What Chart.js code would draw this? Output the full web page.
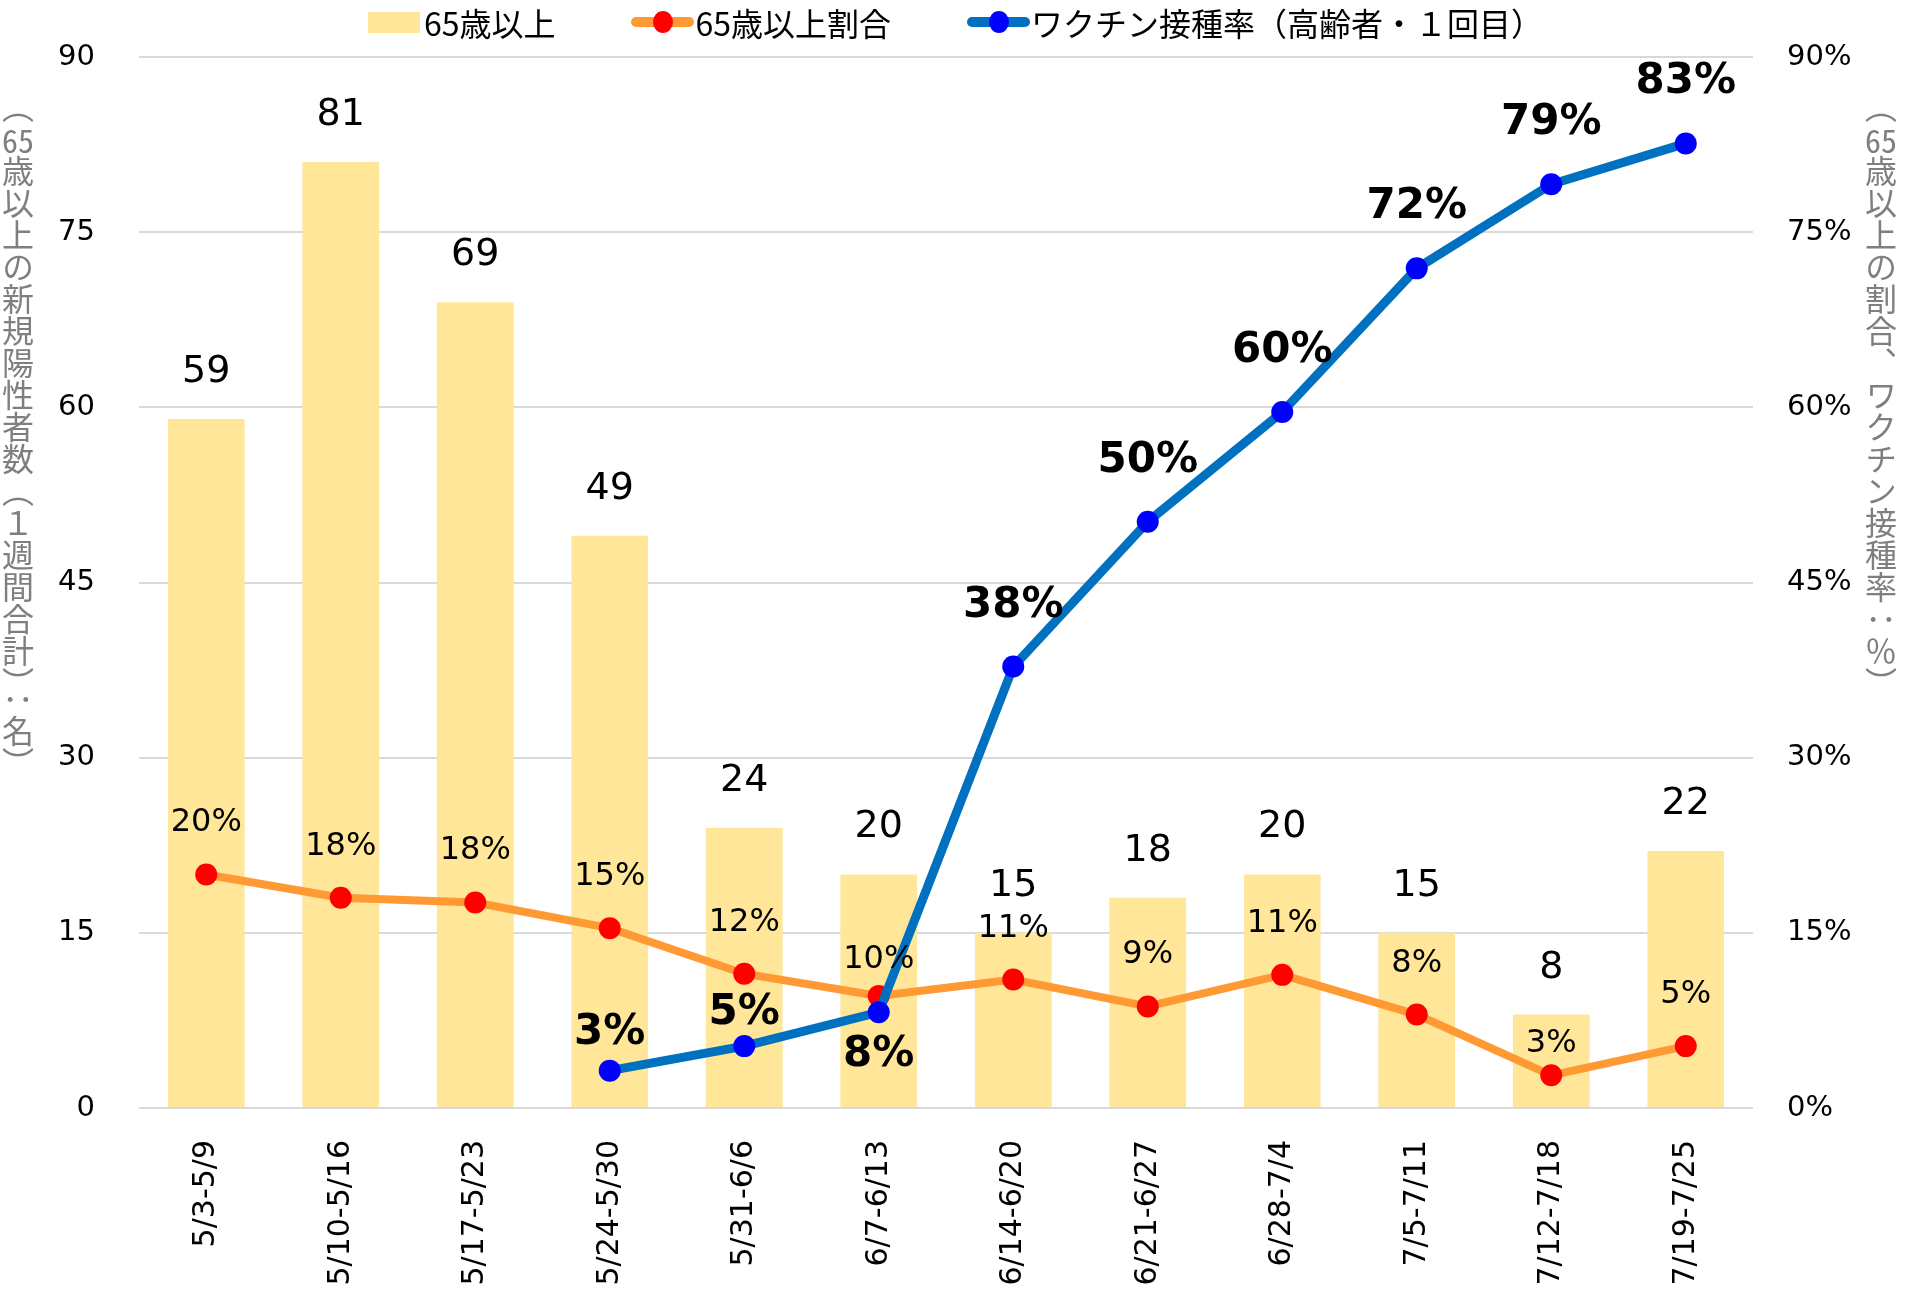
<!DOCTYPE html>
<html>
<head>
<meta charset="utf-8">
<script src="https://cdn.jsdelivr.net/npm/chart.js@4.4.1/dist/chart.umd.min.js"></script>
<style>
body { margin: 0; background: #fff; }
#wrap { position: relative; width: 1911px; height: 1289px; }
#legend {
    position: absolute; top: 0; left: 0; width: 1911px; height: 44px;
    display: flex; justify-content: center; align-items: center; gap: 76px;
    font-family: "Noto Sans CJK JP", sans-serif; font-size: 32px; color: #000;
}
.legend-item { display: flex; align-items: center; white-space: nowrap; }
.swatch { width: 52px; height: 21px; margin-right: 4px; }
.line-icon { position: relative; width: 63px; height: 10px; border-radius: 5px; margin-right: 1px; }
.dot { position: absolute; left: 50%; top: 50%; width: 20px; height: 22px; margin: -11px 0 0 -10px; border-radius: 50%; }
.axis-title {
    position: absolute; writing-mode: vertical-rl; white-space: nowrap;
    font-family: "Noto Sans CJK JP", sans-serif; font-size: 32px; line-height: 1; color: #7f7f7f;
}
.tcy { text-combine-upright: all; }
</style>
</head>
<body>
<div id="wrap">
    <canvas id="myChart" width="1911" height="1289"></canvas>
    <div id="legend"></div>
    <div class="axis-title" id="leftTitle" style="left: 2px; top: 91px;"></div>
    <div class="axis-title" id="rightTitle" style="left: 1865px; top: 91px;"></div>
</div>
<script>
// data
const weekLabels = ['5/3-5/9', '5/10-5/16', '5/17-5/23', '5/24-5/30', '5/31-6/6', '6/7-6/13',
                    '6/14-6/20', '6/21-6/27', '6/28-7/4', '7/5-7/11', '7/12-7/18', '7/19-7/25'];
const seniorCases = [59, 81, 69, 49, 24, 20, 15, 18, 20, 15, 8, 22];                               //人
const seniorShare = [20.0, 18.0, 17.6, 15.4, 11.5, 9.6, 11.0, 8.7, 11.4, 8.0, 2.8, 5.3];          //%
const vaccineRate = [null, null, null, 3.2, 5.3, 8.2, 37.8, 50.2, 59.6, 71.9, 79.1, 82.6];       //%
const seriesNames = ['65歳以上', '65歳以上割合', 'ワクチン接種率（高齢者・１回目）'];
const leftTitleHtml = '（<span class="tcy">65</span>歳以上の新規陽性者数（１週間合計）：名）';
const rightTitleHtml = '（<span class="tcy">65</span>歳以上の割合、ワクチン接種率：％）';

document.getElementById('leftTitle').innerHTML = leftTitleHtml;
document.getElementById('rightTitle').innerHTML = rightTitleHtml;

const barColor = '#FFE699';
const shareLine = '#FF9933';
const shareDot = '#FF0000';
const vaccineLine = '#0070C0';
const vaccineDot = '#0000FF';

Chart.defaults.font.family = '"DejaVu Sans", "Noto Sans CJK JP", sans-serif';
Chart.defaults.color = '#000';

// label look per dataset; lift = distance from point to text baseline
const labelStyles = [
    {font: '38px "DejaVu Sans"', lift: 37, nudge: {}, format: v => v},
    {font: '32px "DejaVu Sans"', lift: 43, nudge: {5: 28, 10: 23}, format: v => Math.round(v) + '%'},
    {font: 'bold 42px "DejaVu Sans"', lift: 50, nudge: {3: 27, 4: 22, 5: -54}, format: v => Math.round(v) + '%'}
];

const valueLabels = {
    id: 'valueLabels',
    afterDatasetsDraw(chart) {
        const ctx = chart.ctx;
        ctx.save();
        ctx.textAlign = 'center';
        ctx.textBaseline = 'alphabetic';
        ctx.fillStyle = '#000';
        chart.data.datasets.forEach((ds, i) => {
            const style = labelStyles[i];
            ctx.font = style.font;
            chart.getDatasetMeta(i).data.forEach((el, j) => {
                const v = ds.data[j];
                if (v === null) return;
                const lift = style.nudge[j] !== undefined ? style.nudge[j] : style.lift;
                ctx.fillText(style.format(v), el.x, el.y - lift);
            });
        });
        ctx.restore();
    }
};

// legend as html, built from the datasets
const htmlLegend = {
    id: 'htmlLegend',
    afterUpdate(chart) {
        const box = document.getElementById('legend');
        box.innerHTML = '';
        chart.data.datasets.forEach(ds => {
            const item = document.createElement('div');
            item.className = 'legend-item';
            const icon = document.createElement('span');
            if (ds.type === 'bar') {
                icon.className = 'swatch';
                icon.style.background = ds.backgroundColor;
            } else {
                icon.className = 'line-icon';
                icon.style.background = ds.borderColor;
                const dot = document.createElement('span');
                dot.className = 'dot';
                dot.style.background = ds.pointBackgroundColor;
                icon.appendChild(dot);
            }
            const text = document.createElement('span');
            text.textContent = ds.label;
            item.append(icon, text);
            box.appendChild(item);
        });
    }
};

// y axes: fixed width, and no extra top room for the tick labels
const fitYAxis = width => scale => {
    scale.width = width;
    scale.paddingTop = 0;
    scale.paddingBottom = 0;
};

const ctx = document.getElementById('myChart').getContext('2d');
const myChart = new Chart(ctx, {
    type: 'bar',
    data: {
        labels: weekLabels,
        datasets: [{
            type: 'bar',
            label: seriesNames[0],
            data: seniorCases,
            backgroundColor: barColor,
            barPercentage: 0.57,
            categoryPercentage: 1,
            yAxisID: 'y',
            order: 3
        }, {
            type: 'line',
            label: seriesNames[1],
            data: seniorShare,
            borderColor: shareLine,
            borderWidth: 8,
            pointBackgroundColor: shareDot,
            pointBorderWidth: 0,
            pointRadius: 11,
            tension: 0,
            yAxisID: 'y1',
            order: 2
        }, {
            type: 'line',
            label: seriesNames[2],
            data: vaccineRate,
            borderColor: vaccineLine,
            borderWidth: 9,
            pointBackgroundColor: vaccineDot,
            pointBorderWidth: 0,
            pointRadius: 11,
            tension: 0,
            yAxisID: 'y1',
            order: 1
        }]
    },
    options: {
        responsive: false,
        animation: false,
        devicePixelRatio: 1,
        layout: {padding: {top: 57, left: 0, right: 0, bottom: 0}},
        scales: {
            x: {
                grid: {display: false},
                border: {display: false},
                ticks: {
                    autoSkip: false,
                    minRotation: 90,
                    maxRotation: 90,
                    padding: 24,
                    font: {size: 30}
                },
                afterFit: scale => { scale.height = 181; }
            },
            y: {
                position: 'left',
                min: 0,
                max: 90,
                ticks: {stepSize: 15, padding: 44, font: {size: 29}},
                grid: {color: '#D9D9D9', lineWidth: 2, drawTicks: false},
                border: {display: false},
                afterFit: fitYAxis(139)
            },
            y1: {
                position: 'right',
                min: 0,
                max: 90,
                ticks: {
                    stepSize: 15,
                    padding: 34,
                    font: {size: 29},
                    callback: value => value + '%'
                },
                grid: {display: false, drawTicks: false},
                border: {display: false},
                afterFit: fitYAxis(158)
            }
        },
        plugins: {
            legend: {display: false},
            tooltip: {enabled: false}
        }
    },
    plugins: [valueLabels, htmlLegend]
});
</script>
</body>
</html>
